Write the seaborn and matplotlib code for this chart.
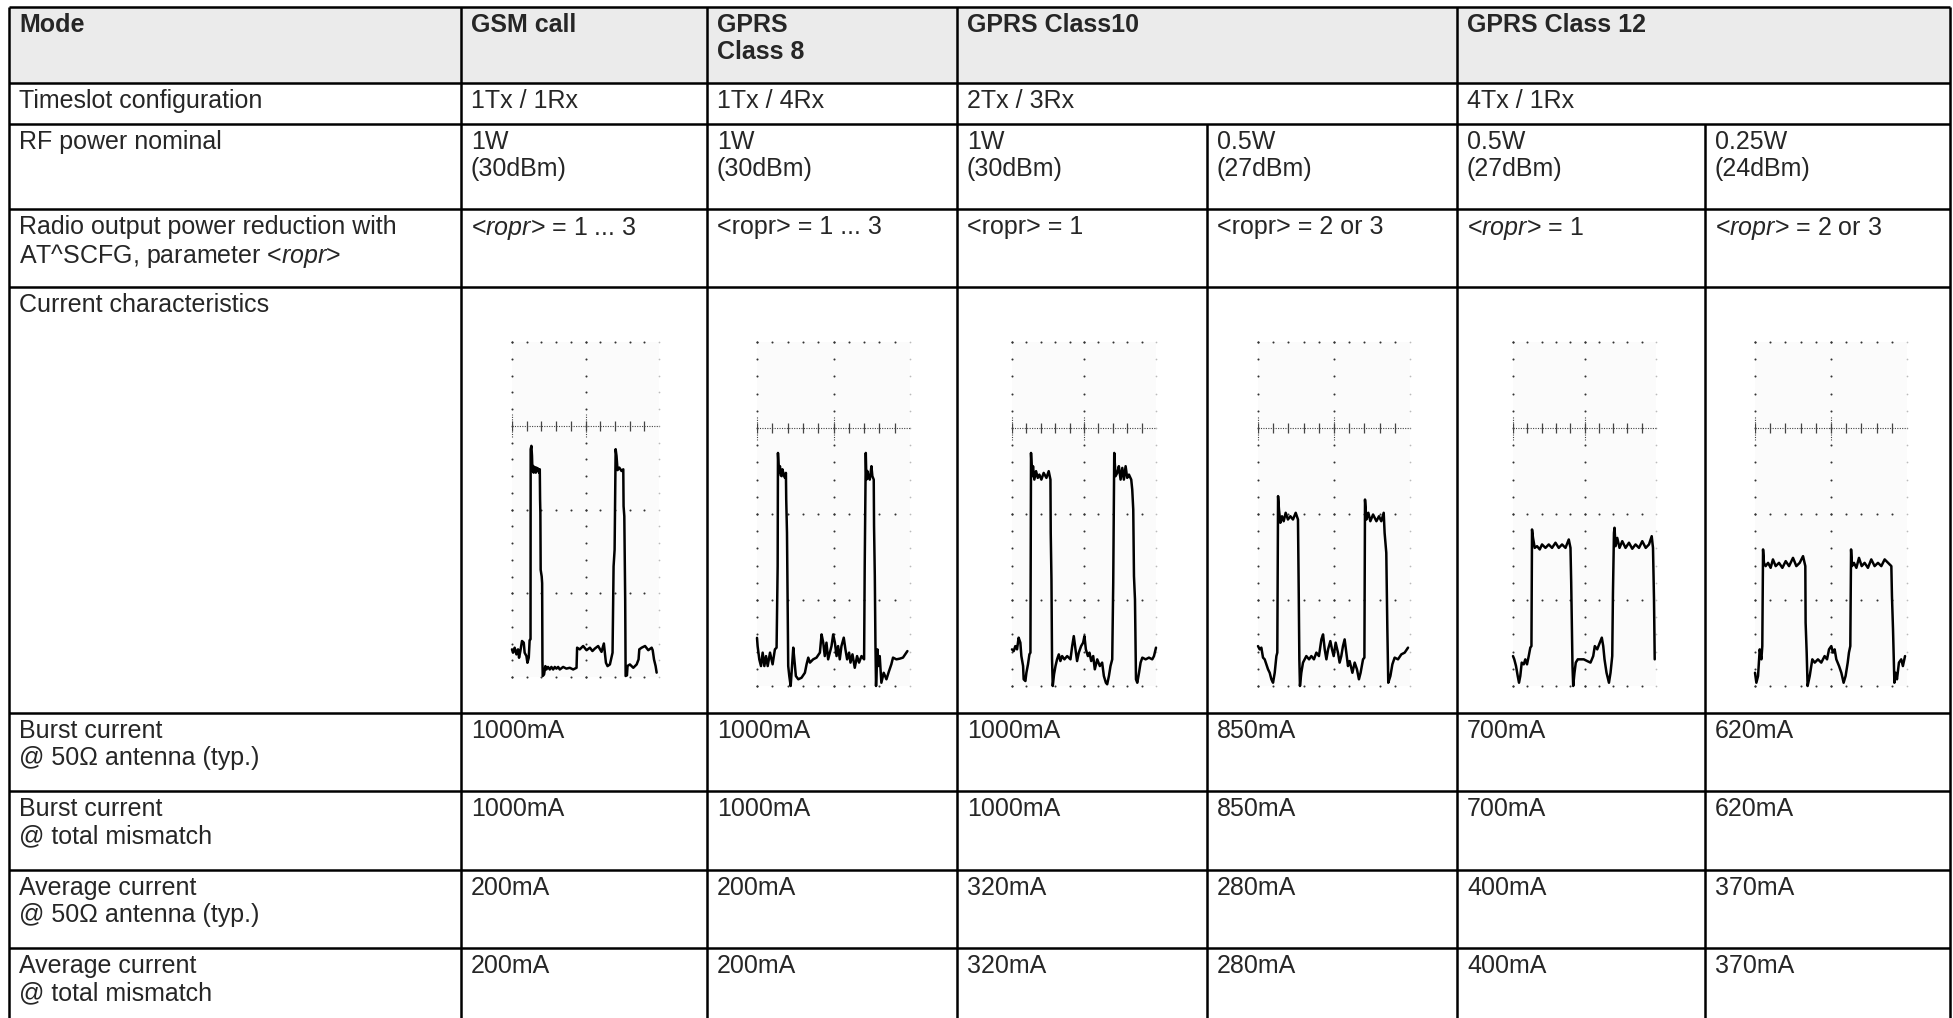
import numpy as np
import matplotlib
matplotlib.use('Agg')
import matplotlib.pyplot as plt
from matplotlib.patches import Rectangle
import seaborn as sns

sns.set_style('white')
plt.rcParams['font.family'] = ['Liberation Sans', 'DejaVu Sans']
plt.rcParams['mathtext.fontset'] = 'custom'
plt.rcParams['mathtext.rm'] = 'Liberation Sans'
plt.rcParams['mathtext.it'] = 'Liberation Sans:italic'

# table content
row_labels = ['Mode', 'Timeslot configuration', 'RF power nominal',
              'Radio output power reduction with\nAT^SCFG, parameter <$\\mathit{ropr}$>',
              'Current characteristics',
              'Burst current\n@ 50\u03a9 antenna (typ.)', 'Burst current\n@ total mismatch',
              'Average current\n@ 50\u03a9 antenna (typ.)', 'Average current\n@ total mismatch']
modes = ['GSM call', 'GPRS\nClass 8', 'GPRS Class10', 'GPRS Class 12']
timeslots = ['1Tx / 1Rx', '1Tx / 4Rx', '2Tx / 3Rx', '4Tx / 1Rx']
rf_power = ['1W\n(30dBm)', '1W\n(30dBm)', '1W\n(30dBm)', '0.5W\n(27dBm)', '0.5W\n(27dBm)', '0.25W\n(24dBm)']
ropr = ['<$\\mathit{ropr}$> = 1 ... 3', '<ropr> = 1 ... 3', '<ropr> = 1', '<ropr> = 2 or 3',
        '<$\\mathit{ropr}$> = 1', '<$\\mathit{ropr}$> = 2 or 3']
burst_50 = ['1000mA', '1000mA', '1000mA', '850mA', '700mA', '620mA']
burst_mismatch = ['1000mA', '1000mA', '1000mA', '850mA', '700mA', '620mA']
avg_50 = ['200mA', '200mA', '320mA', '280mA', '400mA', '370mA']
avg_mismatch = ['200mA', '200mA', '320mA', '280mA', '400mA', '370mA']

# scope traces: (time in divisions, current in divisions)
gsm_trace = [(0, 1.65), (0.07, 1.45), (0.18, 1.75), (0.3, 1.35), (0.41, 1.65), (0.48, 1.15), (0.57, 1.55),
             (0.68, 2.15), (0.8, 2.05), (0.86, 1.45), (0.98, 1.25), (1.05, 0.85), (1.14, 1.15), (1.2, 2.2),
             (1.26, 2.25), (1.27, 13.6), (1.32, 13.8), (1.36, 13.2), (1.39, 12.3), (1.43, 12.6), (1.47, 12.2),
             (1.5, 12.55), (1.54, 12.25), (1.57, 12.5), (1.62, 12.2), (1.66, 12.5), (1.71, 12.3), (1.77, 12.45),
             (1.84, 12.2), (1.89, 12.4), (1.91, 10.6), (1.93, 9.8), (1.95, 6.4), (2.02, 6.0), (2.05, 5.6),
             (2.07, 1.0), (2.09, 0.06), (2.18, 0.15), (2.27, 0.65), (2.34, 0.45), (2.45, 0.6), (2.57, 0.45),
             (2.68, 0.6), (2.8, 0.45), (2.91, 0.6), (3.02, 0.5), (3.14, 0.6), (3.25, 0.45), (3.48, 0.6),
             (3.7, 0.5), (3.93, 0.55), (4.16, 0.45), (4.39, 0.55), (4.43, 1.75), (4.61, 1.65), (4.84, 1.85),
             (5.07, 1.6), (5.3, 1.75), (5.47, 1.55), (5.64, 1.7), (5.86, 1.85), (6.09, 1.5), (6.25, 2.0),
             (6.39, 0.85), (6.5, 0.65), (6.66, 0.75), (6.84, 1.45), (6.91, 6.6), (6.98, 7.6), (7.05, 13.6),
             (7.11, 13.2), (7.18, 12.35), (7.3, 12.5), (7.45, 12.3), (7.57, 12.4), (7.59, 10.2), (7.64, 9.6),
             (7.7, 4.6), (7.73, 0.06), (7.82, 0.1), (7.86, 0.66), (8.02, 0.75), (8.25, 0.55), (8.48, 0.75),
             (8.61, 1.05), (8.66, 1.65), (8.82, 1.75), (9.05, 1.85), (9.27, 1.6), (9.5, 1.75), (9.57, 1.6),
             (9.66, 1.05), (9.77, 0.65), (9.84, 0.26)]
class8_trace = [(0, 2.8), (0.04, 2.32), (0.15, 1.55), (0.26, 1.16), (0.37, 1.94), (0.48, 1.16), (0.59, 1.74),
                (0.7, 1.16), (0.85, 1.94), (1.02, 1.26), (1.17, 2.13), (1.28, 2.23), (1.35, 6.97), (1.37, 13.55),
                (1.43, 12.39), (1.5, 12.78), (1.55, 12.25), (1.61, 12.2), (1.66, 12.6), (1.72, 12.39), (1.78, 12.2),
                (1.83, 12.1), (1.89, 12.39), (1.91, 10.84), (1.96, 8.9), (2.0, 5.03), (2.04, 1.16), (2.11, 0.58),
                (2.2, 0.0), (2.26, 0.77), (2.37, 2.23), (2.46, 1.36), (2.54, 0.58), (2.7, 0.39), (2.91, 0.48),
                (3.13, 0.77), (3.24, 1.26), (3.35, 1.65), (3.46, 1.36), (3.67, 1.55), (3.89, 1.65), (4.11, 1.94),
                (4.22, 3.0), (4.33, 2.52), (4.43, 1.74), (4.54, 2.52), (4.65, 1.55), (4.87, 2.32), (4.98, 3.0),
                (5.09, 2.52), (5.2, 1.74), (5.3, 2.32), (5.41, 1.55), (5.52, 2.32), (5.67, 2.81), (5.78, 2.13),
                (5.89, 1.55), (6.02, 1.94), (6.11, 1.36), (6.24, 1.84), (6.39, 1.06), (6.54, 1.74), (6.67, 1.36),
                (6.83, 1.74), (7.0, 1.55), (7.04, 6.97), (7.11, 13.55), (7.15, 12.0), (7.21, 12.5), (7.26, 12.29),
                (7.37, 12.0), (7.48, 12.78), (7.54, 12.2), (7.63, 12.0), (7.65, 9.29), (7.7, 6.39), (7.74, 2.52),
                (7.78, 0.0), (7.87, 2.13), (7.93, 1.16), (8.02, 1.74), (8.13, 0.19), (8.28, 0.77), (8.46, 0.39),
                (8.63, 0.87), (8.78, 1.26), (8.89, 1.65), (9.11, 1.55), (9.33, 1.59), (9.54, 1.65), (9.83, 2.03)]
class10_1w_trace = [(0, 2.13), (0.12, 2.03), (0.23, 2.32), (0.35, 2.13), (0.46, 2.81), (0.58, 2.52), (0.65, 1.74),
                    (0.77, 1.16), (0.81, 0.39), (0.93, 0.29), (1.0, 0.77), (1.11, 1.26), (1.21, 1.84), (1.28, 1.94),
                    (1.32, 13.55), (1.39, 12.2), (1.46, 12.78), (1.55, 12.0), (1.67, 12.49), (1.79, 12.1),
                    (1.9, 12.29), (2.04, 12.0), (2.2, 12.39), (2.39, 12.1), (2.55, 12.49), (2.67, 12.0), (2.69, 8.9),
                    (2.74, 6.2), (2.78, 1.55), (2.83, 0.0), (2.92, 0.68), (3.02, 1.16), (3.13, 1.55), (3.25, 1.84),
                    (3.36, 1.45), (3.48, 1.74), (3.64, 1.55), (3.83, 1.74), (4.06, 1.55), (4.18, 2.32), (4.29, 2.9),
                    (4.41, 2.13), (4.52, 1.45), (4.64, 1.94), (4.8, 2.32), (4.94, 2.52), (5.03, 2.9), (5.13, 2.13),
                    (5.27, 1.74), (5.38, 1.94), (5.5, 1.45), (5.64, 1.74), (5.75, 0.97), (5.92, 1.55), (6.1, 1.16),
                    (6.26, 1.36), (6.38, 0.58), (6.52, 0.19), (6.61, 0.1), (6.73, 0.58), (6.84, 1.16), (6.96, 1.55),
                    (7.03, 6.0), (7.1, 13.55), (7.19, 12.2), (7.31, 12.39), (7.42, 12.78), (7.54, 12.0),
                    (7.66, 12.68), (7.77, 12.0), (7.89, 12.78), (8.0, 12.1), (8.12, 12.29), (8.28, 12.0),
                    (8.35, 11.42), (8.42, 10.26), (8.47, 6.39), (8.54, 5.03), (8.61, 0.39), (8.7, 0.19), (8.82, 0.77),
                    (8.93, 1.36), (9.05, 1.65), (9.28, 1.55), (9.51, 1.65), (9.74, 1.55), (9.86, 1.74), (10.0, 2.23)]
class10_05w_trace = [(0, 2.32), (0.11, 2.13), (0.22, 2.23), (0.33, 1.65), (0.44, 1.55), (0.55, 1.26), (0.66, 0.97),
                     (0.77, 0.77), (0.88, 0.39), (0.99, 0.19), (1.1, 0.77), (1.21, 1.74), (1.27, 1.94), (1.32, 11.04),
                     (1.38, 10.26), (1.47, 9.49), (1.58, 9.87), (1.69, 9.58), (1.82, 10.07), (1.97, 9.68),
                     (2.13, 9.87), (2.3, 9.68), (2.48, 10.07), (2.63, 9.68), (2.68, 5.42), (2.72, 1.55), (2.76, 0.0),
                     (2.85, 0.77), (2.96, 1.36), (3.07, 1.55), (3.18, 1.74), (3.36, 1.55), (3.51, 1.74), (3.68, 1.55),
                     (3.84, 1.94), (4.01, 1.74), (4.17, 2.71), (4.28, 3.0), (4.39, 2.13), (4.5, 1.55), (4.61, 2.13),
                     (4.76, 2.61), (4.87, 2.13), (4.98, 1.74), (5.11, 2.52), (5.26, 1.94), (5.37, 1.36), (5.48, 1.74),
                     (5.59, 2.32), (5.7, 2.71), (5.81, 1.94), (5.92, 1.16), (6.03, 1.45), (6.21, 0.77), (6.36, 1.36),
                     (6.51, 0.97), (6.64, 0.39), (6.75, 0.77), (6.91, 1.55), (7.0, 1.65), (7.04, 10.84), (7.13, 9.68),
                     (7.26, 10.07), (7.39, 9.58), (7.57, 9.97), (7.79, 9.58), (7.96, 9.87), (8.11, 9.58),
                     (8.27, 10.07), (8.33, 8.9), (8.44, 7.74), (8.51, 3.29), (8.57, 0.19), (8.71, 0.58), (8.84, 1.26),
                     (8.99, 1.65), (9.21, 1.55), (9.43, 1.84), (9.65, 1.94), (9.87, 2.23)]
class12_05w_trace = [(0, 1.74), (0.09, 1.55), (0.21, 1.16), (0.33, 0.58), (0.42, 0.19), (0.51, 0.58), (0.61, 1.36),
                     (0.75, 1.26), (0.86, 1.55), (0.98, 1.26), (1.1, 1.74), (1.21, 2.23), (1.29, 2.32), (1.33, 9.1),
                     (1.4, 8.61), (1.52, 8.03), (1.68, 8.13), (1.87, 7.94), (2.03, 8.23), (2.27, 8.03), (2.5, 8.23),
                     (2.73, 8.03), (2.97, 8.33), (3.2, 8.03), (3.43, 8.23), (3.67, 8.03), (3.9, 8.52), (4.02, 8.03),
                     (4.07, 6.0), (4.11, 3.87), (4.16, 1.16), (4.21, 0.0), (4.3, 0.77), (4.39, 1.36), (4.53, 1.55),
                     (4.72, 1.55), (4.95, 1.55), (5.19, 1.45), (5.42, 1.36), (5.61, 1.74), (5.72, 2.32), (5.89, 2.13),
                     (6.07, 2.52), (6.21, 2.81), (6.31, 2.32), (6.4, 1.55), (6.54, 0.77), (6.71, 0.19), (6.82, 0.77),
                     (6.94, 1.74), (6.99, 5.42), (7.06, 8.9), (7.1, 9.2), (7.17, 8.13), (7.29, 8.61), (7.45, 8.03),
                     (7.64, 8.42), (7.87, 8.03), (8.11, 8.33), (8.34, 7.98), (8.57, 8.23), (8.81, 8.03), (9.04, 8.42),
                     (9.28, 8.03), (9.51, 8.23), (9.7, 8.71), (9.79, 8.03), (9.86, 5.03), (9.91, 1.55)]
class12_025w_trace = [(0, 0.77), (0.09, 0.19), (0.2, 0.58), (0.31, 2.13), (0.42, 1.55), (0.48, 2.32), (0.53, 7.94),
                      (0.59, 7.16), (0.7, 6.97), (0.86, 7.16), (1.03, 6.87), (1.18, 7.36), (1.36, 6.97), (1.58, 7.16),
                      (1.8, 6.87), (2.02, 7.26), (2.24, 6.97), (2.5, 7.45), (2.72, 6.97), (2.94, 7.16), (3.16, 7.55),
                      (3.31, 6.97), (3.33, 3.68), (3.4, 1.94), (3.46, 0.0), (3.6, 0.58), (3.77, 1.55), (3.93, 1.36),
                      (4.14, 1.55), (4.36, 1.36), (4.58, 1.74), (4.74, 1.55), (4.87, 2.13), (5.02, 2.32), (5.13, 1.94),
                      (5.24, 2.13), (5.35, 1.55), (5.53, 1.16), (5.68, 0.77), (5.83, 0.19), (5.96, 0.58), (6.1, 1.36),
                      (6.18, 1.94), (6.27, 2.32), (6.32, 7.94), (6.38, 6.97), (6.51, 7.16), (6.67, 6.87), (6.84, 7.45),
                      (7.02, 6.97), (7.21, 7.16), (7.43, 6.87), (7.65, 7.36), (7.87, 6.97), (8.09, 7.16), (8.31, 6.97),
                      (8.53, 7.36), (8.97, 6.97), (9.01, 5.23), (9.08, 3.29), (9.17, 0.19), (9.25, 0.77), (9.34, 0.39),
                      (9.47, 1.36), (9.62, 1.55), (9.73, 1.16), (9.87, 1.74)]

# layout (pixels)
W, H = 1953, 1018
FS = 18
x_edges = [9, 461, 707, 957, 1207, 1457, 1705, 1950]
y_edges = [7, 83, 124, 209, 287, 713, 791, 870, 948, 1026]

fig = plt.figure(figsize=(W / 100, H / 100), dpi=100)
ax = fig.add_axes([0, 0, 1, 1])
ax.set_xlim(0, W)
ax.set_ylim(H, 0)
ax.axis('off')

# header shading and grid lines
ax.add_patch(Rectangle((x_edges[0], y_edges[0]), x_edges[-1] - x_edges[0], y_edges[1] - y_edges[0],
                       color='#ebebeb', zorder=0, lw=0))
lw = 1.8
ax.hlines(y_edges[:-1], x_edges[0], x_edges[-1], color='black', lw=lw)
ax.vlines([x_edges[i] for i in (0, 1, 2, 3, 5, 7)], y_edges[0], H + 5, color='black', lw=lw)
ax.vlines([x_edges[4], x_edges[6]], y_edges[2], H + 5, color='black', lw=lw)


def cell(col, row, s, **kw):
    ax.text(x_edges[col] + 10, y_edges[row] + 6, s, ha='left', va='top', fontsize=FS,
            linespacing=1.15, **kw)


for r, lab in enumerate(row_labels):
    cell(0, r, lab, fontweight='bold' if r == 0 else 'normal')
for c, s in zip([1, 2, 3, 5], modes):
    cell(c, 0, s, fontweight='bold')
for c, s in zip([1, 2, 3, 5], timeslots):
    cell(c, 1, s)
for r, vals in zip([2, 3, 5, 6, 7, 8], [rf_power, ropr, burst_50, burst_mismatch, avg_50, avg_mismatch]):
    for c, s in enumerate(vals):
        cell(c + 1, r, s)

# oscilloscope pictures: left, top, width, height in pixels
scope_boxes = [(512, 342, 147, 335), (757, 342, 153, 344), (1012, 342, 144, 344),
               (1258, 342, 152, 344), (1513, 342, 143, 344), (1755, 342, 152, 344)]
traces = [gsm_trace, class8_trace, class10_1w_trace, class10_05w_trace, class12_05w_trace, class12_025w_trace]

for (L, T, w, h), tr in zip(scope_boxes, traces):
    sax = fig.add_axes([L / W, 1 - (T + h) / H, w / W, h / H])
    sax.set_facecolor('#fbfbfb')
    dot = dict(s=2.2, color='#333333', lw=0, clip_on=False, zorder=2)
    rows = np.arange(0, 21)
    cols = np.arange(0, 10)
    for xv in (0, 5):
        sax.scatter(np.full(rows.size, xv), rows, **dot)
    sax.scatter(np.full(rows.size, 10), rows, s=1.5, color='#bbbbbb', lw=0, clip_on=False)
    for yv in (0, 5, 10, 20):
        sax.scatter(cols, np.full(cols.size, yv), **dot)
    # dotted ruler line with ticks
    sax.plot([0, 10], [15, 15], color='#444444', lw=0.8, ls=(0, (1, 1.2)), clip_on=False)
    sax.vlines(np.arange(0, 10), 14.7, 15.3, color='#444444', lw=0.9)
    for xv in (0, 5):
        sax.plot([xv, xv], [14.3, 15.7], color='#444444', lw=0.8, ls=(0, (1, 1.2)), clip_on=False)
    t, i = zip(*tr)
    sns.lineplot(x=list(t), y=list(i), ax=sax, color='black', lw=1.8, estimator=None, sort=False,
                 legend=False, clip_on=False, zorder=3)
    sax.set_xlim(0, 10)
    sax.set_ylim(0, 20)
    sax.set_xticks([])
    sax.set_yticks([])
    sax.set_xlabel('')
    sax.set_ylabel('')
    for sp in sax.spines.values():
        sp.set_visible(False)

fig.savefig('out.png', dpi=100)
